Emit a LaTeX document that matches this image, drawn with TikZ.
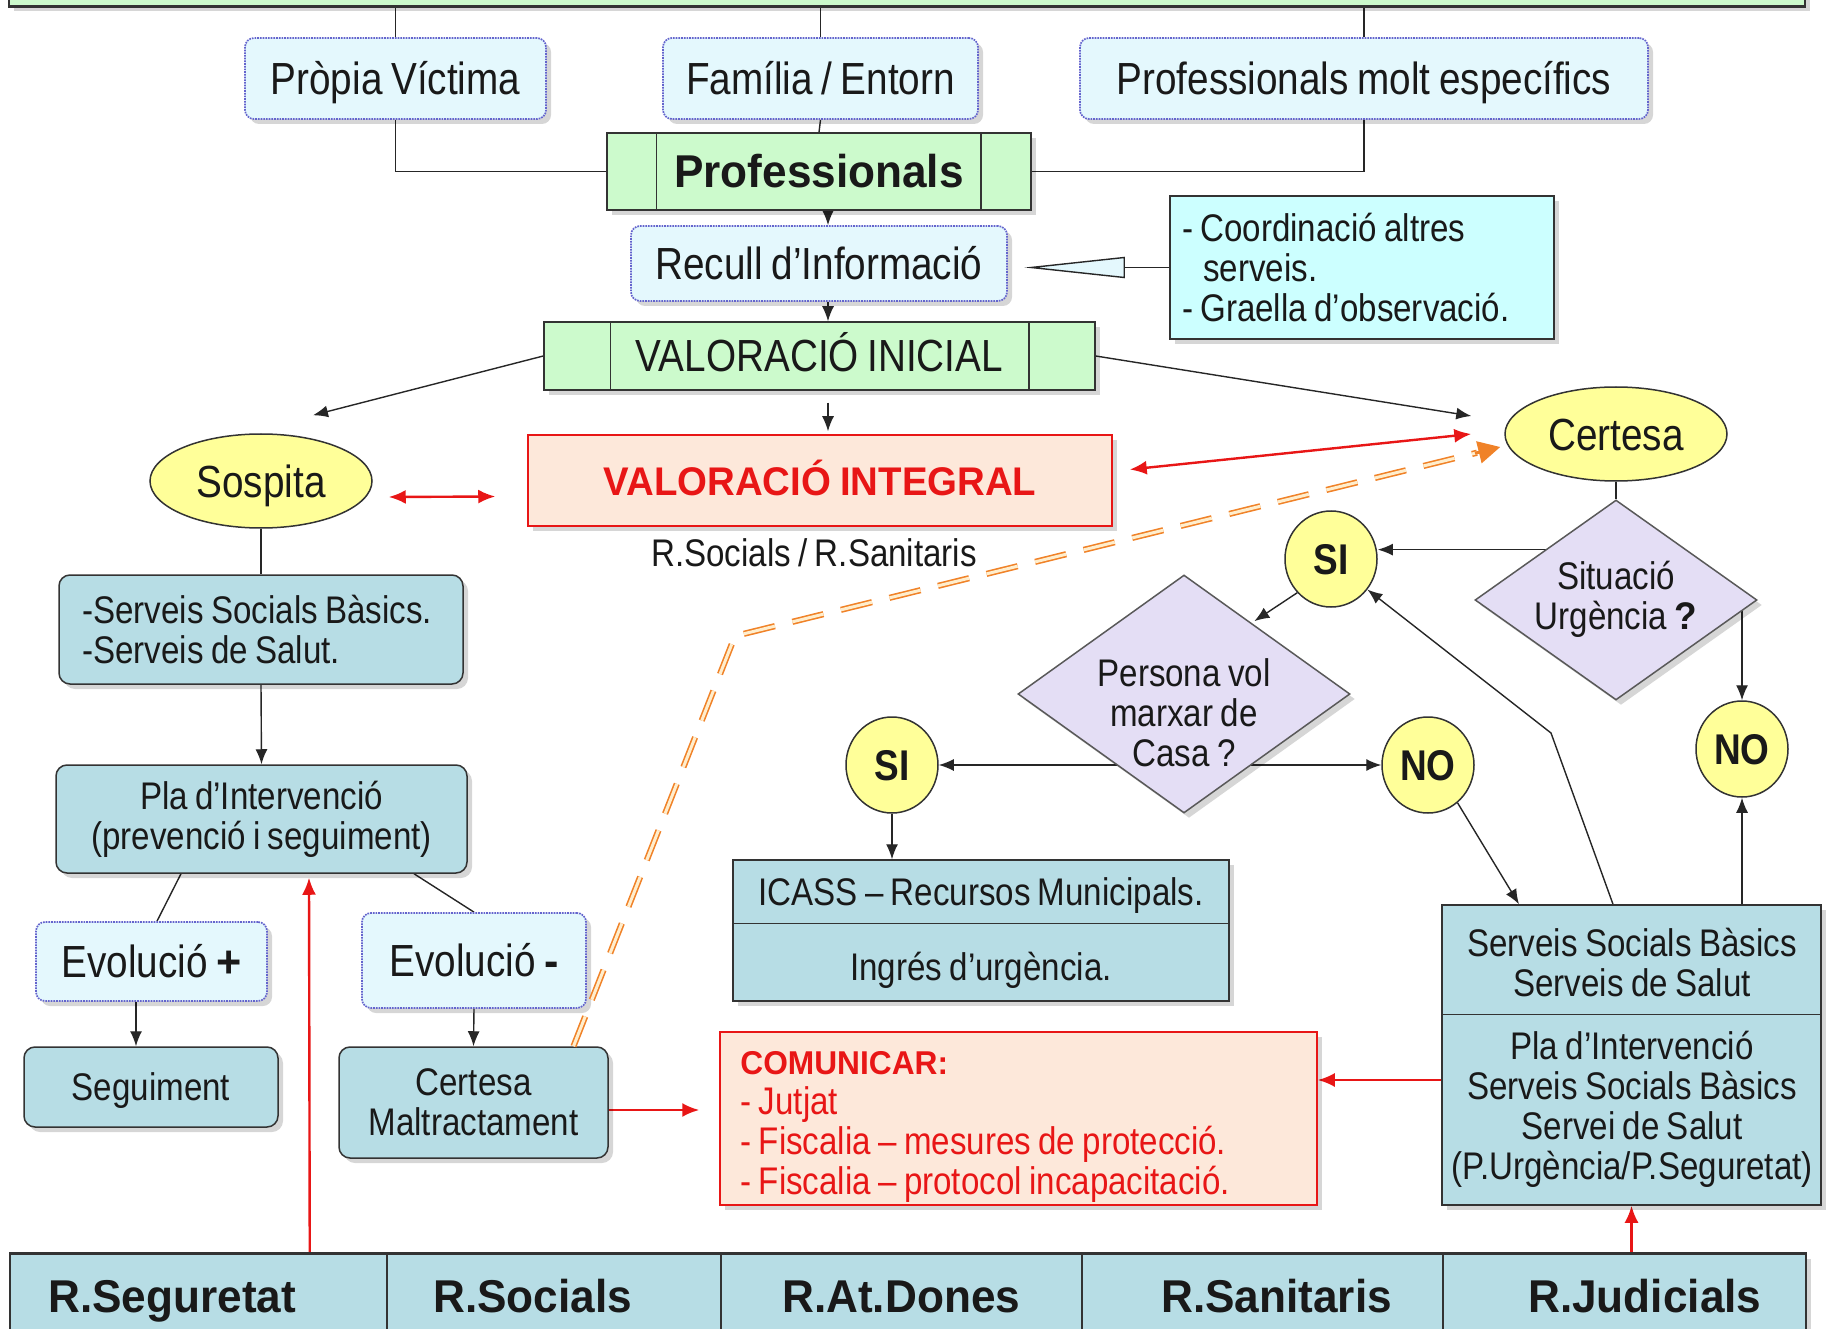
\documentclass[tikz,border=0pt]{standalone}
\usepackage{fontspec}
\setmainfont{Liberation Sans}[FakeStretch=0.86,WordSpace=0.8]
\newfontfamily\bwide{Liberation Sans}[FakeStretch=0.96,WordSpace=0.85]
\usetikzlibrary{shapes.geometric,arrows.meta,calc,backgrounds,shadows}
\definecolor{grn}{RGB}{204,250,204}
\definecolor{lcy}{RGB}{228,248,253}
\definecolor{dotb}{RGB}{100,100,205}
\definecolor{cyb}{RGB}{204,255,255}
\definecolor{tealb}{RGB}{183,221,229}
\definecolor{ylw}{RGB}{255,255,153}
\definecolor{lav}{RGB}{228,222,245}
\definecolor{pch}{RGB}{253,232,218}
\definecolor{rd}{RGB}{232,22,22}
\definecolor{org}{RGB}{240,130,40}
\definecolor{orgin}{RGB}{255,238,205}
\definecolor{txt}{RGB}{25,25,25}
\newcommand\fbig{\fontsize{45}{47}\selectfont}
\newcommand\fsm{\fontsize{38.5}{40}\selectfont}
\newcommand\fbbig{\bwide\bfseries\fontsize{46}{48}\selectfont}
\newcommand\fcirc{\bfseries\fontsize{43}{45}\selectfont}
\begin{document}
\begin{tikzpicture}[x=1pt,y=-1pt,
  every node/.style={text=txt, inner sep=0pt},
  wh/.style 2 args={minimum width=#1pt,minimum height=#2pt},
  capL/.style={text height=32pt,text depth=0pt},
  capS/.style={text height=27.5pt,text depth=0pt},
  capB/.style={text height=33pt,text depth=0pt},
  capC/.style={text height=31pt,text depth=0pt},
  base/.style={line width=1.5pt, draw=black!80},
  shad/.style={drop shadow={shadow xshift=5pt,shadow yshift=-5pt,opacity=0.16,fill=black}},
  greenbox/.style={base, fill=grn, shad},
  dotbox/.style={draw=dotb, densely dotted, line width=1.7pt, fill=lcy, rounded corners=9pt, shad},
  cybox/.style={base, fill=cyb, shad},
  tealbox/.style={base, fill=tealb, rounded corners=11pt, shad},
  sqteal/.style={base, fill=tealb, shad},
  yel/.style={ellipse, base, fill=ylw},
  dia/.style={diamond, line width=1.5pt, draw=black!65, fill=lav, shad},
  peachbox/.style={draw=rd, line width=1.5pt, fill=pch, shad},
  conn/.style={line width=1.4pt, draw=black!85},
  arr/.style={conn, -{Latex[length=15pt,width=12pt]}},
  redarr/.style={line width=2.4pt, draw=rd, -{Latex[length=17pt,width=14pt]}},
  redboth/.style={line width=2.4pt, draw=rd, {Latex[length=17pt,width=14pt]}-{Latex[length=17pt,width=14pt]}},
  orangeline/.style={draw=org, line width=1.6pt, double=orgin, double distance=3pt, dash pattern=on 32pt off 18pt}
]
\useasboundingbox (0,0) rectangle (1829,1329);

% top bar
\node[greenbox, wh={1796}{50}] (topbar) at (907,-19) {};
\draw[line width=3pt, black!80] (topbar.south west) -- (topbar.south east);

% sources
\node[dotbox, wh={301}{81}, font=\fbig, capL] (pv) at (395.5,78.5) {Pròpia Víctima};
\node[dotbox, wh={315}{81}, font=\fbig, capL] (fam) at (820.5,78.5) {Família / Entorn};
\node[dotbox, wh={568}{81}, font=\fbig, capL] (pm) at (1364,78.5) {Professionals molt específics};

\node[greenbox, wh={424}{77}, font=\fbbig, capB] (prof) at (819,171.5) {Professionals};
\draw[base] ([xshift=50pt]prof.north west) -- ([xshift=50pt]prof.south west);
\draw[base] ([xshift=-51pt]prof.north east) -- ([xshift=-51pt]prof.south east);

\node[dotbox, wh={376}{75}, font=\fbig, capL] (recull) at (819,263.5) {Recull d'Informació};
\node[cybox, wh={384}{143}, font=\fsm, text width=360pt, align=flush left] (coord) at (1362,267.5)
  {- Coordinació altres\\\hspace*{0.55em}serveis.\\- Graella d'observació.};

\node[greenbox, wh={551}{68}, font=\fbig, capL] (vi) at (819.5,356) {VALORACIÓ INICIAL};
\draw[base] ([xshift=67pt]vi.north west) -- ([xshift=67pt]vi.south west);
\draw[base] ([xshift=-67pt]vi.north east) -- ([xshift=-67pt]vi.south east);

\node[peachbox, wh={584}{91}, font={\bwide\bfseries\fontsize{40}{42}\selectfont}, text=rd, text height=29pt, text depth=0pt] (vint) at (820,480.5) {VALORACIÓ INTEGRAL};
\node[font=\fsm, capS] (rsr) at (814,553) {R.Socials / R.Sanitaris};

\node[yel, wh={222}{94}, font=\fbig, capL] (sos) at (261,481) {Sospita};
\node[yel, wh={222}{94}, font=\fbig, capL] (cer) at (1616,434) {Certesa};

% decisions
\node[dia, wh={282}{200}] (sit) at (1616,600) {};
\node[font=\fsm, align=center] (sitT) at (1616,599) {Situació\\Urgència {\bwide\bfseries ?}};
\node[dia, wh={332}{238}] (per) at (1184,694) {};
\node[font=\fsm, align=center] (perT) at (1184,713) {Persona vol\\marxar de\\Casa ?};

\node[yel, wh={92}{96}, font=\fcirc, capC] (si1) at (1331,559) {SI};
\node[yel, wh={92}{96}, font=\fcirc, capC] (no2) at (1742,749) {NO};
\node[yel, wh={92}{96}, font=\fcirc, capC] (si2) at (892,765) {SI};
\node[yel, wh={92}{96}, font=\fcirc, capC] (no1) at (1428,765) {NO};

% ICASS
\node[sqteal, wh={496}{141}] (icass) at (981,930.5) {};
\draw[base] ([yshift=-64pt]icass.north west) -- ([yshift=-64pt]icass.north east);
\node[font=\fsm, capS] (icA) at (981,892) {ICASS – Recursos Municipals.};
\node[font=\fsm, capS] (icB) at (981,967) {Ingrés d'urgència.};

% right services box
\node[sqteal, wh={379}{300}] (ssb) at (1631.5,1055) {};
\draw[base] ([yshift=-110pt]ssb.north west) -- ([yshift=-110pt]ssb.north east);
\node[font=\fsm, align=center] (ssbA) at (1632,963) {Serveis Socials Bàsics\\Serveis de Salut};
\node[font=\fsm, align=center] (ssbB) at (1632,1109.5) {Pla d'Intervenció\\Serveis Socials Bàsics\\Servei de Salut\\(P.Urgència/P.Seguretat)};

% comunicar
\node[peachbox, wh={597}{173}] (com) at (1018.5,1118.5) {};
\node[text width=555pt, align=flush left, text=rd, font=\fsm, anchor=north west] (comT) at ([xshift=21pt,yshift=-20pt]com.north west)
  {{\bwide\bfseries\fontsize{33}{40}\selectfont COMUNICAR:}\\- Jutjat\\- Fiscalia – mesures de protecció.\\- Fiscalia – protocol incapacitació.};

% left column
\node[tealbox, wh={404}{109}] (ssb1) at (261,629.5) {};
\node[font=\fsm, text width=364pt, align=flush left, anchor=west] (ssb1T) at ([xshift=24pt]ssb1.west) {-Serveis Socials Bàsics.\\-Serveis de Salut.};
\node[tealbox, wh={411}{108}, font=\fsm, align=center] (pla) at (261.5,819) {Pla d'Intervenció\\(prevenció i seguiment)};
\node[dotbox, wh={231}{79}, font=\fbig, capL] (ev1) at (151.5,961.5) {Evolució {\bwide\bfseries +}};
\node[dotbox, wh={224}{95}, font=\fbig, capL] (ev2) at (474,960.5) {Evolució {\bwide\bfseries -}};
\node[tealbox, wh={254}{80}, font=\fsm, capS] (seg) at (151,1087) {Seguiment};
\node[tealbox, wh={269}{111}, font=\fsm, align=center] (cm) at (473.5,1102.5) {Certesa\\Maltractament};

% bottom row
\node[sqteal, wh={377}{95}, anchor=north west] (rseg) at (9,1253) {};
\node[sqteal, wh={334}{95}, anchor=north west] (rsoc) at (386,1253) {};
\node[sqteal, wh={361}{95}, anchor=north west] (rdon) at (720,1253) {};
\node[sqteal, wh={361}{95}, anchor=north west] (rsan) at (1081,1253) {};
\node[sqteal, wh={363}{95}, anchor=north west] (rjud) at (1442,1253) {};
\draw[line width=3pt, black!80] (rseg.north west) -- (rjud.north east);
\node[font=\fbbig, capB, anchor=west] (rsegT) at (48,1296) {R.Seguretat};
\node[font=\fbbig, capB, anchor=west] (rsocT) at (433,1296) {R.Socials};
\node[font=\fbbig, capB, anchor=west] (rdonT) at (782,1296) {R.At.Dones};
\node[font=\fbbig, capB, anchor=west] (rsanT) at (1161,1296) {R.Sanitaris};
\node[font=\fbbig, capB, anchor=west] (rjudT) at (1528,1296) {R.Judicials};

% connectors
\begin{pgfonlayer}{background}
\draw[conn] (topbar.south -| pv.north) -- (pv.north);
\draw[conn] (topbar.south -| fam.north) -- (fam.north);
\draw[conn] (topbar.south -| pm.north) -- (pm.north);
\draw[conn] (pv.south) |- (prof.west);
\draw[conn] (pm.south) |- (prof.east);
\draw[conn] (fam.south) -- (prof.north);
\draw[arr] ([xshift=9pt]prof.south) -- ([xshift=9pt]recull.north);
\draw[arr] ([xshift=9pt]recull.south) -- ([xshift=8.5pt]vi.north);
\draw[conn] (coord.west) -- ++(-45,0) coordinate (tb);
\draw[conn, fill=lcy, line join=miter] ([yshift=10pt]tb) -- ([xshift=-93pt]tb) -- ([yshift=-10pt]tb) -- cycle;
\draw[arr] (vi.west) -- ([xshift=52pt,yshift=18pt]sos.north);
\draw[arr] (vi.east) -- ([xshift=-33pt,yshift=18pt]cer.west);
\draw[arr] ([xshift=8.5pt,yshift=-12pt]vi.south) -- ([xshift=8pt,yshift=3pt]vint.north);
\draw[redboth] ([xshift=16pt,yshift=-16pt]sos.east) -- ([xshift=-32pt,yshift=-16pt]vint.west);
\draw[redboth] ([xshift=17pt,yshift=11pt]vint.east) -- ([xshift=-33pt]cer.west);
\draw[conn] (sos.south) -- (ssb1.north);
\draw[arr] (ssb1.south) -- (pla.north);
\draw[conn] ([xshift=-80.5pt]pla.south) -- ([xshift=5.5pt]ev1.north);
\draw[conn] ([xshift=152.5pt]pla.south) -- (ev2.north);
\draw[arr] ([xshift=-15.5pt]ev1.south) -- ([xshift=-15pt]seg.north);
\draw[arr] (ev2.south) -- (cm.north);
\coordinate (cmE) at ([yshift=-7.5pt]cm.east);
\draw[redarr] (cmE) -- ($(cmE -| com.west)+(-20,0)$);
\draw[redarr] ([xshift=111.5pt]rseg.north) -- ([xshift=47.5pt,yshift=-4pt]pla.south);
\draw[conn] (cer.south) -- (sit.north);
\coordinate (sitNW) at (sit.north west);
\draw[arr] (sitNW -| sit.center) -- (sitNW -| si1.east);
\draw[arr] (sit.center -| no2.north) -- (no2.north);
\draw[arr] (ssb.north -| no2.south) -- (no2.south);
\draw[arr] (si1.-135) -- ([xshift=-13pt,yshift=13pt]per.north east);
\draw[arr] (per.center |- si2.center) -- (si2.east);
\draw[arr] (per.center |- no1.center) -- (no1.west);
\draw[arr] (si2.south) -- (si2.south |- icass.north);
\draw[arr] (no1.-52) -- ([xshift=-112.5pt]ssb.north);
\coordinate (bend2) at (1551,733);
\draw[arr] ([xshift=-18.5pt]ssb.north) -- (bend2) -- (si1.-40);
\coordinate (ssbW) at ([yshift=-25pt]ssb.west);
\draw[redarr] (ssbW) -- (ssbW -| com.east);
\draw[redarr] (rjud.north -| ssb.south) -- (ssb.south);
\end{pgfonlayer}

% orange dashed double arrow
\coordinate (ostart) at ([xshift=100pt]cm.north);
\coordinate (obend) at (735,636);
\coordinate (oend) at ([xshift=-4pt,yshift=-13pt]cer.west);
\draw[orangeline] (ostart) -- (obend) -- ($(oend)!24pt!(obend)$);
\draw[org, line width=3pt, -{Triangle[length=22pt,width=22pt]}] ($(oend)!26pt!(obend)$) -- (oend);
\end{tikzpicture}
\end{document}
